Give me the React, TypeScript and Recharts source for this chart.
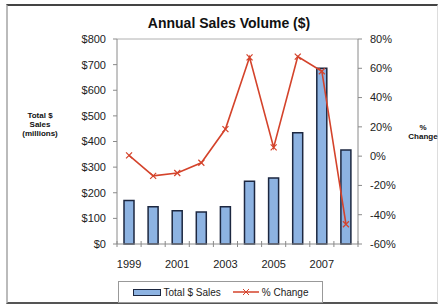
import {
  ComposedChart, Bar, Line, XAxis, YAxis, Legend, ReferenceLine
} from 'recharts'

const YEARS = ['1999', '2000', '2001', '2002', '2003', '2004', '2005', '2006', '2007', '2008']
const SALES = [170, 145, 130, 125, 145, 245, 258, 434, 686, 367]
const PCT_CHANGE = [0.5, -13.5, -11.5, -4.5, 18.5, 67.5, 6, 68, 58, -46.5]
const SALES_TICKS = [0, 100, 200, 300, 400, 500, 600, 700, 800]
const PCT_TICKS = [-60, -40, -20, 0, 20, 40, 60, 80]

const data = YEARS.map((year, i) => ({
  year,
  sales: SALES[i],
  change: PCT_CHANGE[i],
}))

const FONT = 'Arial, "Liberation Sans", sans-serif'
const AXIS = '#8a8a8a'
const BAR_FILL = '#8db3e2'
const BAR_STROKE = '#1c2740'
const LINE_RED = '#d4432b'

const X_TICK_SIZE = 4
const X_TICK_MARGIN = 12

function YearTick(props: any) {
  const { x, y, payload, index } = props
  const half = payload?.offset || 12
  const axisY = y - X_TICK_SIZE - X_TICK_MARGIN
  return (
    <g>
      <line x1={x - half} x2={x - half} y1={axisY - 3} y2={axisY + 3} stroke={AXIS} />
      {index === YEARS.length - 1 && (
        <line x1={x + half} x2={x + half} y1={axisY - 3} y2={axisY + 3} stroke={AXIS} />
      )}
      {index % 2 === 0 && (
        <text x={x} y={y + 8} textAnchor="middle" fontSize={11} fill="#222" fontFamily={FONT}>
          {payload.value}
        </text>
      )}
    </g>
  )
}

function CrossDot(props: any) {
  const { cx, cy } = props
  if (cx == null || cy == null) return null
  const s = 3
  return (
    <g stroke={LINE_RED} strokeWidth={1.2}>
      <line x1={cx - s} y1={cy - s} x2={cx + s} y2={cy + s} />
      <line x1={cx - s} y1={cy + s} x2={cx + s} y2={cy - s} />
    </g>
  )
}

function LegendBox({ payload }: any) {
  // bars first, like the original
  const items = [...(payload || [])].sort((a: any, b: any) =>
    (a.type === 'rect' ? 0 : 1) - (b.type === 'rect' ? 0 : 1))
  return (
    <div style={{
      width: 205, height: 22, boxSizing: 'border-box', margin: '0 auto',
      border: '1px solid #999', display: 'flex', alignItems: 'center',
      justifyContent: 'center', gap: 12, fontFamily: FONT, fontSize: 10, color: '#222',
      background: '#fff',
    }}>
      {items.map((p: any) => (
        <span key={p.value} style={{ display: 'flex', alignItems: 'center', gap: 3 }}>
          {p.type === 'rect' ? (
            <span style={{
              display: 'inline-block', width: 26, height: 5,
              background: BAR_FILL, border: `1.5px solid ${BAR_STROKE}`,
            }} />
          ) : (
            <svg width={26} height={8}>
              <line x1={0} y1={4} x2={26} y2={4} stroke={LINE_RED} strokeWidth={1.5} />
              <line x1={10} y1={1} x2={16} y2={7} stroke={LINE_RED} />
              <line x1={10} y1={7} x2={16} y2={1} stroke={LINE_RED} />
            </svg>
          )}
          {p.value}
        </span>
      ))}
    </div>
  )
}

const sideLabel: React.CSSProperties = {
  position: 'absolute', fontFamily: FONT, fontSize: 8, fontWeight: 700,
  lineHeight: '9px', textAlign: 'center', color: '#111',
}

export default function App() {
  return (
    <div style={{ position: 'absolute', left: 0, top: 0, width: 441, height: 307, background: '#fff' }}>
      <div style={{
        position: 'absolute', left: 6, top: 4, width: 432, height: 300,
        borderTop: '2px solid #444', borderLeft: '2px solid #bbb',
        borderBottom: '2px solid #555', borderRight: '1px solid #ddd',
        boxSizing: 'border-box', pointerEvents: 'none',
      }} />
      <div style={{
        position: 'absolute', left: 0, width: 458, top: 15, textAlign: 'center',
        fontFamily: FONT, fontSize: 14, fontWeight: 700, color: '#111',
      }}>
        Annual Sales Volume ($)
      </div>
      <div style={{ ...sideLabel, left: 20, top: 111, width: 40 }}>
        Total $<br />Sales<br />(millions)
      </div>
      <div style={{ ...sideLabel, left: 400, top: 123, width: 46 }}>
        %<br />Change
      </div>
      <ComposedChart
        width={441}
        height={307}
        data={data}
        margin={{ top: 39, right: 0, left: 0, bottom: 4 }}
        barCategoryGap={0}
      >
        <XAxis
          dataKey="year"
          interval={0}
          height={37}
          tickLine={false}
          tickSize={X_TICK_SIZE}
          tickMargin={X_TICK_MARGIN}
          axisLine={{ stroke: AXIS }}
          tick={<YearTick />}
        />
        <YAxis
          yAxisId="left"
          width={117}
          domain={[0, 800]}
          ticks={SALES_TICKS}
          tickFormatter={(v: number) => `$${v}`}
          tickSize={4}
          tickMargin={7}
          tickLine={{ stroke: AXIS }}
          axisLine={{ stroke: AXIS }}
          tick={{ fill: '#222', fontSize: 11, fontFamily: FONT }}
        />
        <YAxis
          yAxisId="right"
          orientation="right"
          width={83}
          domain={[-60, 80]}
          ticks={PCT_TICKS}
          tickFormatter={(v: number) => `${v}%`}
          tickSize={4}
          tickMargin={8}
          tickLine={{ stroke: AXIS }}
          axisLine={{ stroke: AXIS }}
          tick={{ fill: '#222', fontSize: 11, fontFamily: FONT }}
        />
        <ReferenceLine yAxisId="left" y={800} stroke="#b0b0b0" />
        <Bar
          yAxisId="left"
          dataKey="sales"
          name="Total $ Sales"
          barSize={10}
          fill={BAR_FILL}
          stroke={BAR_STROKE}
          strokeWidth={1.5}
          isAnimationActive={false}
          legendType="rect"
        />
        <Line
          yAxisId="right"
          dataKey="change"
          name="% Change"
          type="linear"
          stroke={LINE_RED}
          strokeWidth={1.6}
          dot={<CrossDot />}
          activeDot={false}
          isAnimationActive={false}
          legendType="line"
        />
        <Legend verticalAlign="bottom" content={<LegendBox />} />
      </ComposedChart>
    </div>
  )
}
